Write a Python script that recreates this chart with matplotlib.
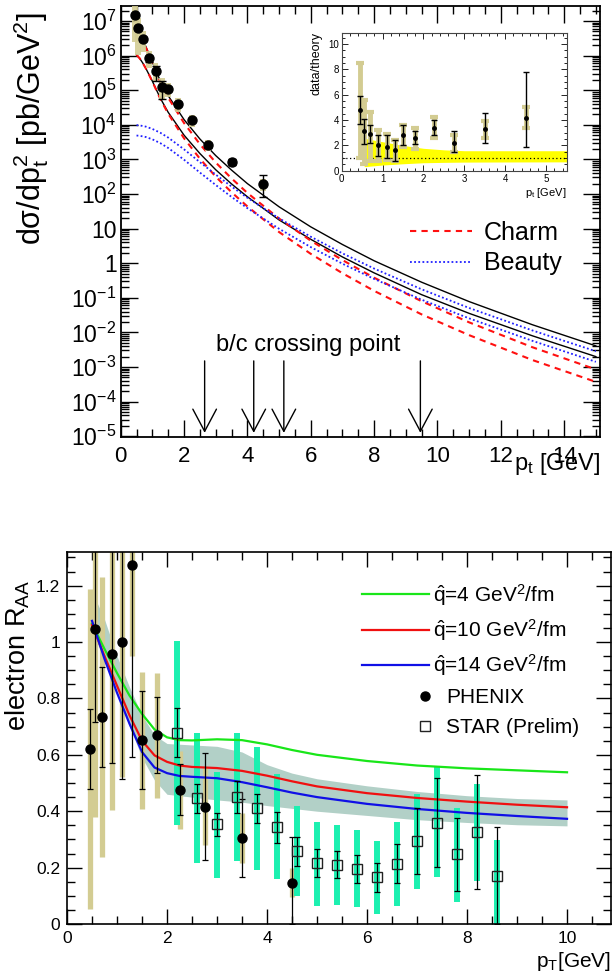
import numpy as np
import matplotlib
matplotlib.use("Agg")
import matplotlib.pyplot as plt
from matplotlib.ticker import FixedLocator, MultipleLocator, LogLocator, NullFormatter
from matplotlib.lines import Line2D

plt.rcParams['font.family'] = ['Liberation Sans', 'DejaVu Sans']
plt.rcParams['mathtext.fontset'] = 'custom'
plt.rcParams['mathtext.rm'] = 'Liberation Sans'
plt.rcParams['mathtext.it'] = 'Liberation Sans:italic'
plt.rcParams['mathtext.bf'] = 'Liberation Sans:bold'

# ---------------- top panel: cross section ----------------
pt_data = [0.45, 0.55, 0.7, 0.9, 1.1, 1.3, 1.5, 1.8, 2.25, 2.75, 3.5, 4.5]
xsec = [1.5e7, 6.3e6, 3.0e6, 8.3e5, 3.5e5, 1.26e5, 1.1e5, 4.0e4, 1.4e4, 2.6e3, 8.5e2, 2.0e2]
xsec_stat_lo = [1.3e7, 5.5e6, 2.6e6, 6.5e5, 1.9e5, 5.6e4, 9.5e4, 3.4e4, 1.25e4, 2.2e3, 7.0e2, 8.0e1]
xsec_stat_hi = [1.7e7, 7.2e6, 3.5e6, 1.0e6, 5.0e5, 1.9e5, 1.25e5, 4.6e4, 1.6e4, 3.0e3, 1.05e3, 3.5e2]
xsec_sys_lo = [2.5e6, 1.05e6, 1.3e6, 4.5e5, 1.8e5, 5.2e4, 6.4e4, 2.4e4, 8.9e3, 1.7e3, 6.2e2, 1.2e2]
xsec_sys_hi = [2.7e7, 1.2e7, 5.0e6, 1.4e6, 6.0e5, 2.2e5, 1.6e5, 5.9e4, 1.9e4, 3.6e3, 1.07e3, 2.8e2]

# theory curves, log10 of dsigma/dpt^2
pt_curve = [0.5, 0.6, 0.7, 0.8, 1.0, 1.25, 1.5, 2.0, 2.5, 3.0, 3.5, 4.0, 5.0, 6.0, 7.0, 8.0, 9.5, 11.0, 13.0, 15.0]
total_hi_log = [6.88, 6.67, 6.46, 6.25, 5.81, 5.27, 4.84, 4.15, 3.59, 3.11, 2.69, 2.30, 1.63, 1.05, 0.54, 0.07, -0.55, -1.11, -1.78, -2.39]
total_lo_log = [6.02, 5.92, 5.78, 5.62, 5.26, 4.77, 4.36, 3.70, 3.17, 2.70, 2.29, 1.92, 1.25, 0.69, 0.18, -0.28, -0.91, -1.45, -2.10, -2.70]
charm_hi_log = [6.85, 6.64, 6.43, 6.22, 5.78, 5.23, 4.78, 4.05, 3.44, 2.91, 2.45, 2.03, 1.29, 0.65, 0.09, -0.42, -1.10, -1.71, -2.43, -3.07]
charm_lo_log = [6.02, 5.92, 5.78, 5.62, 5.25, 4.75, 4.32, 3.61, 3.02, 2.50, 2.05, 1.64, 0.90, 0.27, -0.29, -0.80, -1.48, -2.08, -2.80, -3.43]
beauty_hi_log = [3.99, 3.98, 3.965, 3.945, 3.88, 3.77, 3.63, 3.29, 2.92, 2.56, 2.215, 1.89, 1.295, 0.765, 0.285, -0.155, -0.755, -1.295, -1.945, -2.545]
beauty_lo_log = [3.69, 3.68, 3.665, 3.645, 3.58, 3.47, 3.33, 2.99, 2.62, 2.26, 1.915, 1.59, 0.995, 0.465, -0.015, -0.455, -1.055, -1.595, -2.245, -2.85]

crossing_pts = [2.65, 4.2, 5.15, 9.46]

# inset: data/theory
ratio = [4.8, 3.1, 2.9, 2.0, 1.9, 1.6, 2.8, 2.6, 3.4, 2.2, 3.3, 4.2]
ratio_stat_lo = [3.7, 2.1, 2.2, 1.2, 1.0, 0.75, 2.05, 2.1, 2.8, 1.45, 2.2, 1.85]
ratio_stat_hi = [5.9, 4.1, 3.6, 2.8, 2.8, 2.45, 3.6, 3.1, 4.0, 3.1, 4.55, 7.8]
ratio_sys_lo = [1.0, 0.5, 0.8, 0.75, 0.85, 0.8, 1.85, 1.75, 2.55, 1.5, 2.6, 3.4]
ratio_sys_hi = [8.5, 5.6, 4.65, 3.25, 2.9, 2.45, 3.65, 3.35, 4.25, 2.85, 3.95, 5.0]
band_pt = [0.55, 1.0, 1.5, 2.0, 2.5, 3.0, 4.0, 5.5]
band_hi = [2.56, 2.29, 2.0, 1.77, 1.65, 1.58, 1.58, 1.58]
band_lo = [0.32, 0.45, 0.55, 0.63, 0.66, 0.68, 0.69, 0.70]

# ---------------- bottom panel: R_AA ----------------
phx_pt = [0.45, 0.55, 0.7, 0.9, 1.1, 1.3, 1.5, 1.8, 2.25, 2.75, 3.5, 4.5]
phx_raa = [0.62, 1.046, 0.734, 0.957, 0.999, 1.273, 0.652, 0.671, 0.475, 0.416, 0.304, 0.147]
phx_stat_lo = [0.478, 0.715, 0.556, 0.57, 0.515, 0.591, 0.478, 0.534, 0.385, 0.227, 0.165, 0.0]
phx_stat_hi = [0.762, 1.4, 0.91, 1.4, 1.4, 1.4, 0.827, 0.806, 0.566, 0.605, 0.443, 0.307]
phx_sys_lo = [0.052, 0.38, 0.239, 0.404, 0.52, 0.95, 0.407, 0.448, 0.336, 0.28, 0.217, 0.097]
phx_sys_hi = [1.187, 1.4, 1.229, 1.4, 1.4, 1.4, 0.895, 0.891, 0.615, 0.558, 0.392, 0.197]

star_pt = [2.2, 2.6, 3.0, 3.4, 3.8, 4.2, 4.6, 5.0, 5.4, 5.8, 6.2, 6.6, 7.0, 7.4, 7.8, 8.2, 8.6]
star_raa = [0.678, 0.448, 0.353, 0.450, 0.410, 0.345, 0.260, 0.215, 0.210, 0.196, 0.165, 0.214, 0.294, 0.359, 0.247, 0.326, 0.170]
star_stat_lo = [0.593, 0.395, 0.312, 0.392, 0.357, 0.288, 0.206, 0.165, 0.163, 0.147, 0.115, 0.144, 0.177, 0.201, 0.117, 0.124, 0.0]
star_stat_hi = [0.765, 0.496, 0.392, 0.508, 0.461, 0.398, 0.310, 0.265, 0.260, 0.245, 0.215, 0.284, 0.410, 0.517, 0.375, 0.528, 0.345]
star_sys_lo = [0.351, 0.215, 0.162, 0.225, 0.191, 0.158, 0.099, 0.064, 0.067, 0.059, 0.035, 0.065, 0.123, 0.165, 0.079, 0.154, 0.0]
star_sys_hi = [1.005, 0.676, 0.540, 0.676, 0.627, 0.532, 0.418, 0.363, 0.351, 0.333, 0.294, 0.362, 0.461, 0.556, 0.410, 0.496, 0.298]

pt_theo = [0.5, 0.75, 1.0, 1.25, 1.5, 1.75, 2.0, 2.25, 2.5, 3.0, 3.5, 4.0, 4.5, 5.0, 6.0, 7.0, 8.0, 9.0, 10.0]
raa_q4 = [1.065, 0.975, 0.89, 0.81, 0.745, 0.69, 0.662, 0.652, 0.651, 0.655, 0.652, 0.637, 0.617, 0.600, 0.578, 0.562, 0.552, 0.545, 0.538]
raa_q10 = [1.06, 0.95, 0.845, 0.74, 0.65, 0.598, 0.575, 0.562, 0.557, 0.553, 0.543, 0.526, 0.506, 0.488, 0.464, 0.447, 0.434, 0.423, 0.414]
raa_q14 = [1.075, 0.94, 0.82, 0.71, 0.61, 0.555, 0.535, 0.525, 0.522, 0.517, 0.503, 0.485, 0.466, 0.450, 0.426, 0.408, 0.394, 0.383, 0.373]

pt_band = [0.55, 0.75, 1.0, 1.25, 1.5, 1.75, 2.0, 2.5, 3.0, 3.5, 4.0, 4.5, 5.0, 6.0, 7.0, 8.0, 9.0, 10.0]
band_upper = [1.16, 1.08, 0.95, 0.84, 0.74, 0.67, 0.64, 0.635, 0.63, 0.61, 0.565, 0.535, 0.515, 0.49, 0.47, 0.455, 0.445, 0.44]
band_lower = [1.02, 0.93, 0.83, 0.70, 0.59, 0.51, 0.46, 0.45, 0.44, 0.432, 0.42, 0.41, 0.40, 0.385, 0.37, 0.36, 0.352, 0.348]

TAN = '#d3cc92'
CYAN = '#1cf0b0'

fig = plt.figure(figsize=(6.12, 9.75), dpi=100)

# ================= top panel =================
ax = fig.add_axes([0.1972, 0.5515, 0.7832, 0.4424])
ax.set_yscale('log')

pc = np.array(pt_curve)
ax.plot(pc, 10 ** np.array(total_hi_log), color='black', lw=1.0)
ax.plot(pc, 10 ** np.array(total_lo_log), color='black', lw=1.0)
l_charm, = ax.plot(pc, 10 ** np.array(charm_hi_log), color='#ff1010', lw=1.5, ls=(0, (3, 2.5)), label='Charm')
ax.plot(pc, 10 ** np.array(charm_lo_log), color='#ff1010', lw=1.5, ls=(0, (3, 2.5)))
l_beauty, = ax.plot(pc, 10 ** np.array(beauty_hi_log), color='#2020ff', lw=1.3, ls=(0, (1, 1.3)), label='Beauty')
ax.plot(pc, 10 ** np.array(beauty_lo_log), color='#2020ff', lw=1.3, ls=(0, (1, 1.3)))

sys_lo = np.array(xsec_sys_lo)
sys_hi = np.array(xsec_sys_hi)
ax.bar(pt_data, sys_hi - sys_lo, bottom=sys_lo, width=0.18, color=TAN, alpha=0.9, zorder=3)
y = np.array(xsec)
ax.errorbar(pt_data, y, yerr=[y - np.array(xsec_stat_lo), np.array(xsec_stat_hi) - y],
            fmt='o', color='black', ms=6.5, elinewidth=1, capsize=3, zorder=4)

for xc in crossing_pts:
    ax.annotate('', xy=(xc, 1.25e-5), xytext=(xc, 1.5e-3),
                arrowprops=dict(arrowstyle='->,head_length=1.6,head_width=0.85',
                                color='black', lw=1.0, shrinkA=0, shrinkB=0))
ax.text(5.91, 4.2e-3, 'b/c crossing point', fontsize=17, ha='center', va='center')

ax.set_xlim(0, 15.13)
ax.set_ylim(9.3e-6, 2.72e7)
decades = [10.0 ** k for k in range(-5, 8)]
dec_labels = []
for k in range(-5, 8):
    if k == 0:
        dec_labels.append('1')
    elif k == 1:
        dec_labels.append('10')
    else:
        dec_labels.append(r'10$^{\mathregular{%d}}$' % k)
ax.yaxis.set_major_locator(FixedLocator(decades))
ax.set_yticklabels(dec_labels)
ax.yaxis.set_minor_locator(LogLocator(base=10, subs=np.arange(2, 10), numticks=30))
ax.yaxis.set_minor_formatter(NullFormatter())
ax.xaxis.set_major_locator(MultipleLocator(2))
ax.xaxis.set_minor_locator(MultipleLocator(0.5))
ax.tick_params(which='both', direction='in', top=True, right=True, width=1)
ax.tick_params(which='major', length=12)
ax.tick_params(which='minor', length=6)
ax.tick_params(axis='x', labelsize=16, pad=6)
ax.tick_params(axis='y', labelsize=16.5, pad=3)
for s in ax.spines.values():
    s.set_linewidth(1.3)

ax.set_ylabel('dσ/dp$_{\\mathregular{t}}^{\\mathregular{2}}$ [pb/GeV$^{\\mathregular{2}}$]', fontsize=22, labelpad=2)
ax.yaxis.set_label_coords(-0.145, 0.717)
fig.text(0.981, 1 - 470 / 975, r'p$_{\mathregular{t}}$ [GeV]', fontsize=17, ha='right', va='baseline')

ax.legend(handles=[l_charm, l_beauty], loc='upper left', bbox_to_anchor=(410 / 612, 1 - 221 / 975),
          bbox_transform=fig.transFigure, frameon=False, fontsize=18, handlelength=2.5,
          handletextpad=0.45, labelspacing=0.25, borderpad=0, borderaxespad=0)

# ---- inset ----
axi = fig.add_axes([0.5583, 0.8249, 0.3676, 0.1415])
axi.fill_between(band_pt, band_lo, band_hi, color='#ffff00', lw=0, zorder=1)
axi.axhline(1.0, color='black', lw=0.9, ls=(0, (1, 2)), zorder=2)
r = np.array(ratio)
axi.errorbar(pt_data, r, yerr=[r - np.array(ratio_sys_lo), np.array(ratio_sys_hi) - r],
             fmt='none', ecolor=TAN, elinewidth=3.5, capsize=3, capthick=3, zorder=3)
axi.errorbar(pt_data, r, yerr=[r - np.array(ratio_stat_lo), np.array(ratio_stat_hi) - r],
             fmt='o', color='black', ms=2.5, elinewidth=1, capsize=2.5, capthick=1, zorder=4)
axi.set_xlim(0, 5.5)
axi.set_ylim(0, 10.9)
axi.xaxis.set_major_locator(MultipleLocator(1))
axi.xaxis.set_minor_locator(MultipleLocator(0.2))
axi.yaxis.set_major_locator(MultipleLocator(2))
axi.yaxis.set_minor_locator(MultipleLocator(0.5))
axi.tick_params(which='both', direction='in', top=True, right=True, labelsize=7, width=0.6, pad=2)
axi.tick_params(which='major', length=4)
axi.tick_params(which='minor', length=2)
for s in axi.spines.values():
    s.set_linewidth(0.8)
    s.set_color('#444444')
axi.set_ylabel('data/theory', fontsize=9, labelpad=3)
axi.yaxis.set_label_coords(-0.085, 0.78)
fig.text(567 / 612, 1 - 196 / 975, r'p$_{\mathregular{t}}$ [GeV]', fontsize=8, ha='right', va='baseline')

# ================= bottom panel =================
ax2 = fig.add_axes([0.1095, 0.0523, 0.8889, 0.3815])
ax2.fill_between(pt_band, band_lower, band_upper, color='#b2d0c7', lw=0, zorder=1)

ax2.vlines(phx_pt, phx_sys_lo, phx_sys_hi, color=TAN, lw=3.8, zorder=2)
ax2.vlines(star_pt, star_sys_lo, star_sys_hi, color=CYAN, lw=4.3, zorder=2)

l4, = ax2.plot(pt_theo, raa_q4, color='#19e619', lw=1.6, zorder=3)
l10, = ax2.plot(pt_theo, raa_q10, color='#f01010', lw=1.6, zorder=3)
l14, = ax2.plot(pt_theo, raa_q14, color='#1010e6', lw=1.6, zorder=3)

py = np.array(phx_raa)
ax2.errorbar(phx_pt, py, yerr=[py - np.array(phx_stat_lo), np.array(phx_stat_hi) - py],
             fmt='o', color='black', ms=6.5, elinewidth=0.9, capsize=2.5, capthick=0.9, zorder=5)
sy = np.array(star_raa)
ax2.errorbar(star_pt, sy, yerr=[sy - np.array(star_stat_lo), np.array(star_stat_hi) - sy],
             fmt='none', ecolor='black', elinewidth=0.9, capsize=2.5, capthick=0.9, zorder=4)
ax2.plot(star_pt, sy, ls='none', marker='s', ms=6.5, mfc='none', mec='#222222', mew=1.0, zorder=5)

ax2.set_xlim(0, 10.88)
ax2.set_ylim(0, 1.319)
ax2.xaxis.set_major_locator(MultipleLocator(2))
ax2.xaxis.set_minor_locator(MultipleLocator(0.5))
ax2.yaxis.set_minor_locator(MultipleLocator(0.05))
ax2.set_yticks([0, 0.2, 0.4, 0.6, 0.8, 1.0, 1.2])
ax2.set_yticklabels(['0', '0.2', '0.4', '0.6', '0.8', '1', '1.2'])
ax2.tick_params(which='both', direction='in', top=True, right=True, width=1)
ax2.tick_params(which='major', length=11)
ax2.tick_params(which='minor', length=5.5)
ax2.tick_params(axis='both', labelsize=12.5, pad=5)
for s in ax2.spines.values():
    s.set_linewidth(1.2)

ax2.set_ylabel(r'electron R$_{\mathregular{AA}}$', fontsize=19.5)
ax2.yaxis.set_label_coords(-0.064, 0.723)
fig.text(0.999, 1 - 967 / 975, r'p$_{\mathregular{T}}$[GeV]', fontsize=15, ha='right', va='baseline')

leg1 = ax2.legend(handles=[l4, l10, l14],
                  labels=[r'$\mathregular{\hat{q}}$=4 GeV$^{\mathregular{2}}$/fm',
                          r'$\mathregular{\hat{q}}$=10 GeV$^{\mathregular{2}}$/fm',
                          r'$\mathregular{\hat{q}}$=14 GeV$^{\mathregular{2}}$/fm'],
                  loc='upper left', bbox_to_anchor=(362 / 612, 1 - 582 / 975),
                  bbox_transform=fig.transFigure, frameon=False, fontsize=15,
                  handlelength=3.2, handletextpad=0.2, labelspacing=0.45,
                  borderpad=0, borderaxespad=0)
ax2.add_artist(leg1)
h_phx = Line2D([], [], ls='none', marker='o', color='black', ms=6.5)
h_star = Line2D([], [], ls='none', marker='s', mfc='none', mec='#222222', mew=1.0, ms=6.5)
ax2.legend(handles=[h_phx, h_star], labels=['PHENIX', 'STAR (Prelim)'],
           loc='upper left', bbox_to_anchor=(414.6 / 612, 1 - 688 / 975),
           bbox_transform=fig.transFigure, frameon=False, fontsize=15,
           handlelength=1.0, handletextpad=0.5, labelspacing=0.55,
           borderpad=0, borderaxespad=0)

fig.savefig('out.png', dpi=100)
